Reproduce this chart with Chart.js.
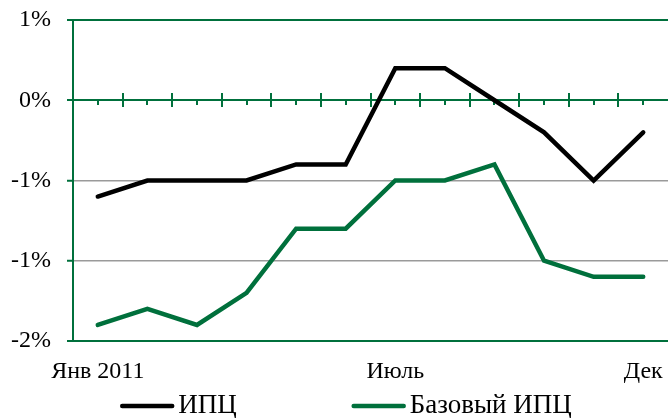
<!DOCTYPE html>
<html>
<head>
<meta charset="utf-8">
<script src="https://cdn.jsdelivr.net/npm/chart.js@4.4.1/dist/chart.umd.min.js"></script>
<style>
  html, body { margin: 0; padding: 0; background: #ffffff; }
  #wrap { width: 668px; height: 418px; }
</style>
</head>
<body>
<div id="wrap"><canvas id="c" width="668" height="418"></canvas></div>
<script>
// Monthly inflation, 2011 (% month over month)
const months = ['Янв 2011', 'Фев', 'Мар', 'Апр', 'Май', 'Июнь', 'Июль', 'Авг', 'Сен', 'Окт', 'Ноя', 'Дек'];
const shownMonths = ['Янв 2011', 'Июль', 'Дек'];
const cpi = [-0.6, -0.5, -0.5, -0.5, -0.4, -0.4, 0.2, 0.2, 0.0, -0.2, -0.5, -0.2];
const coreCpi = [-1.4, -1.3, -1.4, -1.2, -0.8, -0.8, -0.5, -0.5, -0.4, -1.0, -1.1, -1.1];
const seriesNames = ['ИПЦ', 'Базовый ИПЦ'];
const yTicks = [0.5, 0, -0.5, -1.0, -1.5];

const GREEN = '#00703c';
const GREY = '#9a9a9a';
const FONT = '"Liberation Serif", "DejaVu Serif", serif';

// Percent labels rounded to whole numbers, half away from zero
function pctLabel(v) {
  const r = Math.sign(v) * Math.round(Math.abs(v));
  return (r === 0 ? 0 : r) + '%';
}

// Category ticks along the zero line: long marks between months, short marks at each month
const zeroAxisTicks = {
  id: 'zeroAxisTicks',
  beforeDatasetsDraw(chart) {
    const { ctx, scales: { x, y } } = chart;
    const y0 = Math.round(y.getPixelForValue(0));
    const n = chart.data.labels.length;
    ctx.save();
    ctx.strokeStyle = GREEN;
    ctx.lineWidth = 2;
    ctx.beginPath();
    for (let i = 0; i < n; i++) {
      const cx = Math.round(x.getPixelForValue(i));
      ctx.moveTo(cx, y0);
      ctx.lineTo(cx, y0 + 5);
      if (i < n - 1) {
        const bx = Math.round((x.getPixelForValue(i) + x.getPixelForValue(i + 1)) / 2);
        ctx.moveTo(bx, y0 - 7);
        ctx.lineTo(bx, y0 + 7);
      }
    }
    ctx.stroke();
    ctx.restore();
  }
};

// Legend row under the axis labels
const lineLegend = {
  id: 'lineLegend',
  afterDraw(chart) {
    const { ctx } = chart;
    const sets = chart.data.datasets;
    const lineLen = 54, textGap = 4, itemGap = 115, yMid = 406;
    ctx.save();
    ctx.font = '27px ' + FONT;
    const widths = sets.map(d => ctx.measureText(d.label).width);
    let total = 0;
    widths.forEach((w, i) => { total += lineLen + textGap + w + (i < widths.length - 1 ? itemGap : 0); });
    let xPos = chart.width / 2 + 12 - total / 2;
    sets.forEach((d, i) => {
      ctx.strokeStyle = d.borderColor;
      ctx.lineWidth = 4.5;
      ctx.lineCap = 'round';
      ctx.beginPath();
      ctx.moveTo(xPos + 2, yMid);
      ctx.lineTo(xPos + lineLen - 2, yMid);
      ctx.stroke();
      ctx.fillStyle = '#000000';
      ctx.textBaseline = 'middle';
      ctx.textAlign = 'left';
      ctx.fillText(d.label, xPos + lineLen + textGap, yMid);
      xPos += lineLen + textGap + widths[i] + itemGap;
    });
    ctx.restore();
  }
};

new Chart(document.getElementById('c'), {
  type: 'line',
  data: {
    labels: months,
    datasets: [
      {
        label: seriesNames[0],
        data: cpi,
        borderColor: '#000000',
        backgroundColor: '#000000',
        borderWidth: 4.5,
        borderCapStyle: 'round',
        borderJoinStyle: 'miter',
        pointRadius: 0,
        tension: 0
      },
      {
        label: seriesNames[1],
        data: coreCpi,
        borderColor: GREEN,
        backgroundColor: GREEN,
        borderWidth: 4.5,
        borderCapStyle: 'round',
        borderJoinStyle: 'miter',
        pointRadius: 0,
        tension: 0
      }
    ]
  },
  options: {
    responsive: false,
    animation: false,
    devicePixelRatio: 1,
    layout: { padding: { top: 20, left: 0, right: 0, bottom: 0 } },
    plugins: {
      legend: { display: false },
      tooltip: { enabled: false }
    },
    scales: {
      x: {
        type: 'category',
        offset: true,
        grid: { display: false, drawTicks: false },
        border: { display: true, color: GREEN, width: 2 },
        ticks: {
          autoSkip: false,
          maxRotation: 0,
          minRotation: 0,
          padding: 16,
          color: '#000000',
          font: { family: FONT, size: 24 },
          callback: function (val, idx) {
            const lab = this.getLabelForValue(val);
            return shownMonths.includes(lab) ? lab : '';
          }
        },
        afterFit(scale) {
          scale.height = 77;
          scale.paddingLeft = 0;
          scale.paddingRight = 0;
        }
      },
      y: {
        min: -1.5,
        max: 0.5,
        afterBuildTicks(scale) { scale.ticks = yTicks.map(v => ({ value: v })); },
        grid: {
          color: ctx => (ctx.tick && [0.5, 0, -1.5].includes(ctx.tick.value)) ? GREEN : GREY,
          lineWidth: ctx => (ctx.tick && [0.5, 0, -1.5].includes(ctx.tick.value)) ? 2 : 1.5,
          tickColor: GREEN,
          tickLength: 6,
          tickWidth: 2
        },
        border: { display: true, color: GREEN, width: 2 },
        ticks: {
          padding: 16,
          color: '#000000',
          font: { family: FONT, size: 24 },
          callback: v => pctLabel(v)
        },
        afterFit(scale) {
          scale.width = 73;
          scale.paddingTop = 0;
          scale.paddingBottom = 0;
        }
      }
    }
  },
  plugins: [zeroAxisTicks, lineLegend]
});
</script>
</body>
</html>
